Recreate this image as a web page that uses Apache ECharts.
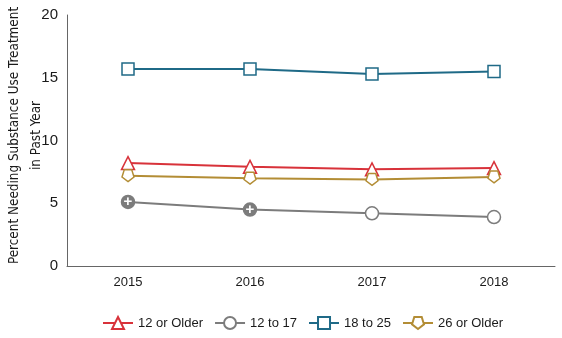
<!DOCTYPE html>
<html>
<head>
<meta charset="utf-8">
<script src="https://cdn.jsdelivr.net/npm/echarts@6/dist/echarts.min.js"></script>
<style>html,body{margin:0;padding:0;background:#fff;}#c{width:562px;height:338px;}</style>
</head>
<body>
<div id="c"></div>
<script>
var years = ['2015', '2016', '2017', '2018'];
var age12Older = [8.2, 7.9, 7.7, 7.8];
var age12to17 = [5.1, 4.5, 4.2, 3.9];
var age18to25 = [15.7, 15.7, 15.3, 15.5];
var age26Older = [7.2, 7.0, 6.9, 7.1];
var sigDiff12to17 = [true, true, false, false];
var yTicks = [0, 5, 10, 15, 20];

var FONT = '"Liberation Sans", Arial, sans-serif';
var pentagon = 'path://M0,20 L19.02,6.18 L11.76,-16.18 L-11.76,-16.18 L-19.02,6.18 Z';

function mk(name, data, color, symbol, size) {
  return {
    name: name, type: 'line', data: data, symbol: symbol, symbolSize: size,
    showAllSymbol: true,
    lineStyle: { color: color, width: 2 },
    itemStyle: { color: '#fff', borderColor: color, borderWidth: 1.5 },
    emphasis: { disabled: true },
    z: 2
  };
}

var gray = '#7c7c7c';
var data1217 = age12to17.map(function (v, i) {
  if (sigDiff12to17[i]) {
    return {
      value: v,
      itemStyle: { color: gray, borderColor: gray },
      label: { show: true, position: 'inside', formatter: '+', color: '#fff', fontSize: 15, fontWeight: 'bold', fontFamily: FONT }
    };
  }
  return v;
});

var chart = echarts.init(document.getElementById('c'), null, { renderer: 'canvas' });
chart.setOption({
  animation: false,
  textStyle: { fontFamily: FONT },
  grid: { left: 67, right: 7, top: 15, bottom: 72, containLabel: false, outerBoundsMode: 'none' },
  xAxis: {
    type: 'category', data: years, boundaryGap: true,
    axisLine: { lineStyle: { color: '#666', width: 1 } },
    axisTick: { show: false },
    axisLabel: { color: '#1a1a1a', fontSize: 13, margin: 10, fontFamily: FONT },
    splitLine: { show: false }
  },
  yAxis: {
    type: 'value', min: yTicks[0], max: yTicks[yTicks.length - 1], interval: 5,
    name: 'Percent Needing Substance Use Treatment\nin Past Year',
    nameLocation: 'middle', nameRotate: 90, nameGap: 19, nameMoveOverlap: false,
    nameTextStyle: { color: '#1a1a1a', fontSize: 13.4, lineHeight: 22, fontFamily: '"Liberation Sans Narrow", "DejaVu Sans Condensed", sans-serif', padding: [0, 0, 0, 10] },
    axisLine: { show: true, lineStyle: { color: '#666', width: 1 } },
    axisTick: { show: false },
    axisLabel: { color: '#1a1a1a', fontSize: 15, margin: 9, fontFamily: FONT },
    splitLine: { show: false }
  },
  legend: {
    left: 97, top: 311, itemWidth: 30, itemHeight: 15, itemGap: 11,
    textStyle: { color: '#1a1a1a', fontSize: 13, fontFamily: FONT },
    data: ['12 or Older', '12 to 17', '18 to 25', '26 or Older']
  },
  series: [
    mk('12 or Older', age12Older, '#d8323a', 'triangle', 13),
    mk('12 to 17', data1217, gray, 'circle', 13),
    mk('18 to 25', age18to25, '#1f6a87', 'rect', 12),
    mk('26 or Older', age26Older, '#b38d35', pentagon, 12)
  ]
});
</script>
</body>
</html>
